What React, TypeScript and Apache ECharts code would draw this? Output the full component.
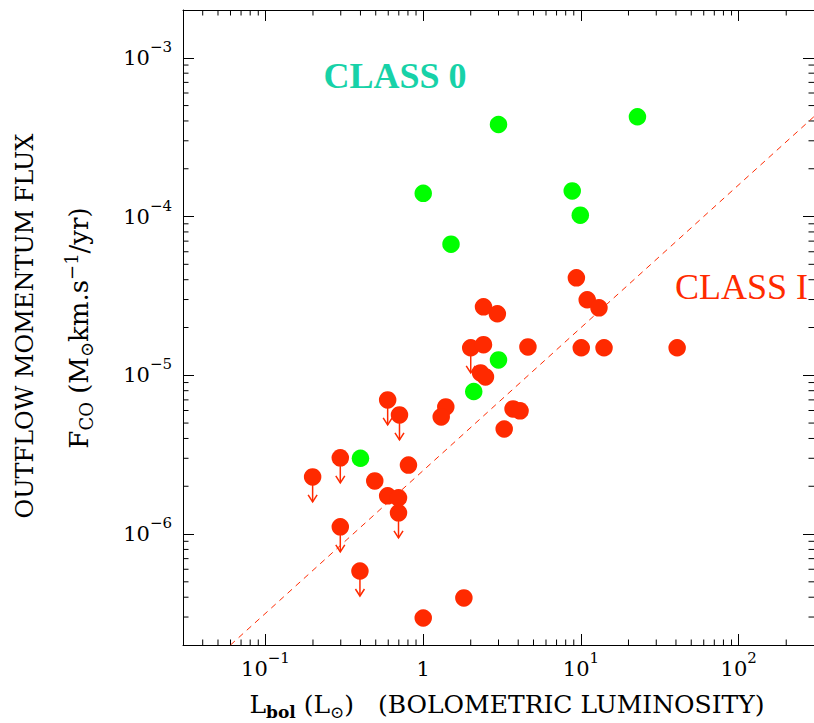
import React, { useEffect, useRef } from 'react';
import * as echarts from 'echarts';

// ---- Data ----
// Class 0 sources (green)
const class0L = [0.40, 1.0, 1.5, 3.0, 3.0, 2.09, 8.8, 9.9, 22.8];
const class0F = [3.0e-6, 1.4e-4, 6.7e-5, 3.8e-4, 1.25e-5, 7.9e-6, 1.45e-4, 1.02e-4, 4.25e-4];

// Class I sources, detections (red)
const classIL = [9.35, 10.95, 13.0, 2.41, 2.95, 2.41, 4.61, 10.04, 14.0, 40.7, 2.31, 2.48, 1.39, 1.30, 3.71, 4.11, 3.26, 0.806, 0.493, 0.595, 0.697, 1.81, 1.0];
const classIF = [4.11e-5, 2.99e-5, 2.66e-5, 2.70e-5, 2.44e-5, 1.56e-5, 1.51e-5, 1.49e-5, 1.49e-5, 1.49e-5, 1.035e-5, 9.77e-6, 6.32e-6, 5.47e-6, 6.14e-6, 5.97e-6, 4.59e-6, 2.72e-6, 2.16e-6, 1.74e-6, 1.69e-6, 3.96e-7, 2.96e-7];

// Class I sources, upper limits (red with arrow)
const limitL = [2.0, 0.595, 0.707, 0.298, 0.199, 0.298, 0.397, 0.697];
const limitF = [1.49e-5, 7.0e-6, 5.63e-6, 3.02e-6, 2.29e-6, 1.11e-6, 5.85e-7, 1.36e-6];

// Fit line endpoints (log F = -5.6 + 0.9 log L)
const fitL = [0.06, 300];
const fitF = [2.0e-7, 4.26e-4];

// Axes
const X_MIN = 0.03, X_MAX = 300;
const Y_MIN = 2e-7, Y_MAX = 2e-3;
const xTickExps = [-1, 0, 1, 2];
const yTickExps = [-6, -5, -4, -3];
const xMinorTicks = [0.04, 0.05, 0.06, 0.07, 0.08, 0.09, 0.2, 0.3, 0.4, 0.5, 0.6, 0.7, 0.8, 0.9, 2, 3, 4, 5, 6, 7, 8, 9, 20, 30, 40, 50, 60, 70, 80, 90, 200];
const yMinorTicks = [3e-7, 4e-7, 5e-7, 6e-7, 7e-7, 8e-7, 9e-7, 2e-6, 3e-6, 4e-6, 5e-6, 6e-6, 7e-6, 8e-6, 9e-6, 2e-5, 3e-5, 4e-5, 5e-5, 6e-5, 7e-5, 8e-5, 9e-5, 2e-4, 3e-4, 4e-4, 5e-4, 6e-4, 7e-4, 8e-4, 9e-4];

const RED = '#ff2a00';
const GREEN = '#00ff00';
const TEAL = '#17d2a8';
const SERIF = '"DejaVu Serif", serif';
const TIMES = '"Liberation Serif", "Times New Roman", serif';

const tickRich = {
  m: { fontSize: 21, fontFamily: SERIF, color: '#000' },
  sup: { fontSize: 15, fontFamily: SERIF, color: '#000', padding: [0, 0, 22, 0] },
  one: { fontSize: 21, fontFamily: SERIF, color: '#000', padding: [8, 0, 8, 0] },
};

function fmt(exps: number[]) {
  return (v: number) => {
    const l = Math.log10(v);
    const e = Math.round(l);
    if (Math.abs(l - e) > 1e-6 || exps.indexOf(e) < 0) return '';
    if (e === 0) return '{one|1}';
    return '{m|10}{sup|' + (e < 0 ? '\u2212' : '') + Math.abs(e) + '}';
  };
}

export default function App() {
  const ref = useRef<HTMLDivElement>(null);
  useEffect(() => {
    if (!ref.current) return;
    const chart = echarts.init(ref.current, null, { renderer: 'svg' });
    const axisLine = { show: true, lineStyle: { color: '#000', width: 1 } };
    const axisTick = { show: true, inside: true, length: 11, lineStyle: { color: '#000', width: 1 } };
    const option: any = {
      animation: false,
      backgroundColor: '#fff',
      grid: { left: 183, top: 10, bottom: 78, right: -8, containLabel: false },
      xAxis: [
        {
          type: 'log', min: X_MIN, max: X_MAX, position: 'bottom',
          axisLine, axisTick, splitLine: { show: false },
          axisLabel: { formatter: fmt(xTickExps), rich: tickRich, margin: 5, showMinLabel: false, showMaxLabel: false },
        },
        {
          type: 'log', min: X_MIN, max: X_MAX, position: 'top',
          axisLine, axisTick, splitLine: { show: false }, axisLabel: { show: false },
        },
      ],
      yAxis: [
        {
          type: 'log', min: Y_MIN, max: Y_MAX, position: 'left',
          axisLine, axisTick, splitLine: { show: false },
          axisLabel: { formatter: fmt(yTickExps), rich: tickRich, margin: 11, showMinLabel: false, showMaxLabel: false },
        },
        {
          type: 'log', min: Y_MIN, max: Y_MAX, position: 'right',
          axisLine, axisTick, splitLine: { show: false }, axisLabel: { show: false },
        },
      ],
      series: [
        {
          type: 'custom', name: 'xminor', silent: true,
          data: xMinorTicks.map((v) => [v, Y_MIN]),
          renderItem: (_p: any, api: any) => {
            const v = api.value(0);
            const b = api.coord([v, Y_MIN]);
            const t = api.coord([v, Y_MAX]);
            return {
              type: 'group', children: [
                { type: 'line', shape: { x1: b[0], y1: b[1], x2: b[0], y2: b[1] - 5.5 }, style: { stroke: '#000', lineWidth: 1 } },
                { type: 'line', shape: { x1: t[0], y1: t[1], x2: t[0], y2: t[1] + 5.5 }, style: { stroke: '#000', lineWidth: 1 } },
              ],
            };
          },
        },
        {
          type: 'custom', name: 'yminor', silent: true,
          data: yMinorTicks.map((v) => [X_MIN, v]),
          renderItem: (_p: any, api: any) => {
            const v = api.value(1);
            const l = api.coord([X_MIN, v]);
            const r = api.coord([X_MAX, v]);
            return {
              type: 'group', children: [
                { type: 'line', shape: { x1: l[0], y1: l[1], x2: l[0] + 5.5, y2: l[1] }, style: { stroke: '#000', lineWidth: 1 } },
                { type: 'line', shape: { x1: r[0], y1: r[1], x2: r[0] - 5.5, y2: r[1] }, style: { stroke: '#000', lineWidth: 1 } },
              ],
            };
          },
        },
        {
          type: 'line', name: 'fit', data: fitL.map((l, i) => [l, fitF[i]]),
          showSymbol: false, symbol: 'none',
          lineStyle: { color: RED, width: 1, type: [6, 5] },
          silent: true,
        },
        {
          type: 'custom', name: 'limits-arrows', silent: true,
          data: limitL.map((l, i) => [l, limitF[i]]),
          renderItem: (_p: any, api: any) => {
            const p = api.coord([api.value(0), api.value(1)]);
            const L = 25;
            return {
              type: 'group', children: [
                { type: 'line', shape: { x1: p[0], y1: p[1], x2: p[0], y2: p[1] + L }, style: { stroke: RED, lineWidth: 1.5 } },
                { type: 'polyline', shape: { points: [[p[0] - 4.5, p[1] + L - 7], [p[0], p[1] + L], [p[0] + 4.5, p[1] + L - 7]] }, style: { stroke: RED, lineWidth: 1.5, fill: 'none' } },
              ],
            };
          },
        },
        {
          type: 'scatter', name: 'Class I limits', data: limitL.map((l, i) => [l, limitF[i]]),
          symbol: 'circle', symbolSize: 17.5, itemStyle: { color: RED, opacity: 1 },
        },
        {
          type: 'scatter', name: 'Class I', data: classIL.map((l, i) => [l, classIF[i]]),
          symbol: 'circle', symbolSize: 17.5, itemStyle: { color: RED, opacity: 1 },
        },
        {
          type: 'scatter', name: 'Class 0', data: class0L.map((l, i) => [l, class0F[i]]),
          symbol: 'circle', symbolSize: 17.5, itemStyle: { color: GREEN, opacity: 1 },
        },
      ],
      graphic: [
        {
          type: 'text', x: 25, y: 326, rotation: Math.PI / 2,
          style: { text: 'OUTFLOW MOMENTUM FLUX', fontSize: 24, fontFamily: SERIF, fill: '#000', align: 'center', verticalAlign: 'middle' },
        },
        {
          type: 'text', x: 79, y: 328, rotation: Math.PI / 2,
          style: {
            text: '{m|F}{sub|CO}{m| (M}{sub|\u2299}{m|km.s}{sup|\u22121}{m|/yr)}',
            align: 'center', verticalAlign: 'middle', fill: '#000', fontFamily: SERIF, fontSize: 26,
            rich: {
              m: { fontSize: 26, fontFamily: SERIF, fill: '#000' },
              sub: { fontSize: 18, fontFamily: SERIF, fill: '#000', padding: [15, 0, 0, 0] },
              sup: { fontSize: 18, fontFamily: SERIF, fill: '#000', padding: [0, 0, 15, 0] },
            },
          },
        },
        {
          type: 'text', x: 507, y: 704,
          style: {
            text: '{m|L}{sb|bol}{m| (L}{sub|\u2299}{m|)   (BOLOMETRIC LUMINOSITY)}',
            align: 'center', verticalAlign: 'middle', fill: '#000', fontFamily: SERIF, fontSize: 25,
            rich: {
              m: { fontSize: 25, fontFamily: SERIF, fill: '#000' },
              sb: { fontSize: 17, fontFamily: SERIF, fontWeight: 'bold', fill: '#000', padding: [15, 0, 0, 0] },
              sub: { fontSize: 17, fontFamily: SERIF, fill: '#000', padding: [15, 0, 0, 0] },
            },
          },
        },
        {
          type: 'text', x: 395, y: 76,
          style: { text: 'CLASS 0', fontSize: 36, fontWeight: 'bold', fontFamily: TIMES, fill: TEAL, align: 'center', verticalAlign: 'middle' },
        },
        {
          type: 'text', x: 675, y: 287,
          style: { text: 'CLASS I', fontSize: 36, fontFamily: TIMES, fill: RED, align: 'left', verticalAlign: 'middle' },
        },
      ],
    };
    chart.setOption(option);
    return () => chart.dispose();
  }, []);
  return <div ref={ref} style={{ position: 'absolute', left: 0, top: 0, width: 814, height: 723, background: '#fff' }} />;
}
